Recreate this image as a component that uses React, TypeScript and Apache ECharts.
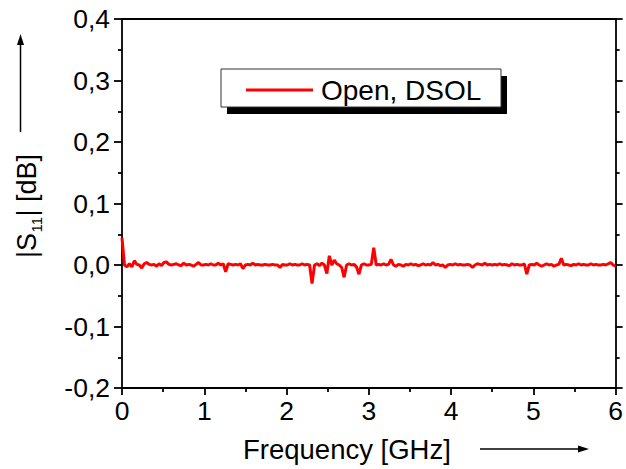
import React, { useEffect, useRef } from "react";
import * as echarts from "echarts";

// |S11| in dB, sampled every 0.03 GHz from 0 to 6 GHz (201 samples)
const FREQ_START_GHZ = 0;
const FREQ_STEP_GHZ = 0.03;
const s11Values: number[] = [
  0.044, 0.0, -0.003, 0.002, -0.003, 0.007, 0.001, 0.0, -0.005, 0.002,
  0.004, 0.001, 0.0, 0.001, -0.002, 0.002, -0.001, 0.004, 0.005, 0.001,
  0.0, 0.001, 0.002, 0.0, -0.001, 0.003, 0.0, 0.001, 0.0, -0.002,
  0.001, 0.004, 0.0, 0.0, 0.001, 0.0, 0.002, 0.0, 0.0, 0.003,
  0.0, 0.002, -0.011, 0.002, 0.001, 0.0, 0.001, 0.0, 0.002, -0.006,
  0.0, 0.001, 0.0, 0.003, 0.0, 0.001, 0.0, 0.0, 0.001, 0.0,
  0.0, 0.001, 0.0, 0.0, -0.004, 0.001, 0.0, 0.0, 0.002, 0.0,
  0.001, 0.0, 0.0, 0.002, 0.0, 0.001, 0.0, -0.03, 0.0, 0.002,
  -0.001, 0.003, 0.0, -0.014, 0.015, 0.0, 0.008, 0.002, 0.0, -0.004,
  -0.02, 0.0, 0.002, 0.0, 0.001, -0.003, -0.015, 0.0, 0.002, 0.0,
  0.0, 0.001, 0.028, 0.0, 0.001, 0.0, 0.002, 0.0, 0.001, 0.009,
  0.0, -0.002, 0.001, 0.0, -0.002, 0.001, 0.0, 0.002, 0.0, 0.001,
  -0.001, 0.0, 0.002, 0.0, 0.001, 0.0, 0.004, 0.0, 0.001, -0.001,
  0.0, -0.004, 0.0, 0.001, 0.0, 0.002, 0.0, 0.001, 0.0, 0.0,
  0.001, 0.0, -0.004, 0.0, 0.002, 0.001, 0.0, 0.003, 0.0, 0.001,
  0.0, 0.001, 0.0, 0.002, 0.0, 0.001, 0.0, -0.001, 0.002, 0.0,
  0.001, 0.0, 0.0, 0.002, -0.015, 0.0, 0.001, 0.0, 0.003, 0.0,
  -0.002, 0.0, 0.002, 0.0, 0.001, -0.002, 0.0, 0.001, 0.011, 0.0,
  0.001, 0.0, -0.001, 0.001, 0.0, 0.002, 0.0, 0.001, 0.0, 0.0,
  0.002, 0.0, 0.001, 0.0, 0.0, 0.001, 0.0, 0.002, 0.004, 0.0,
  -0.002,
];
const seriesName = "Open, DSOL";
const xAxisTitle = "Frequency [GHz]";
const yTitleParts = ["|S", "11", "| [dB]"];

const FONT = "'Liberation Sans', Arial, Helvetica, sans-serif";

export default function App() {
  const ref = useRef<HTMLDivElement>(null);
  useEffect(() => {
    if (!ref.current) return;
    const chart = echarts.init(ref.current, null, { renderer: "svg" });
    const data = s11Values.map((v, i) => [
      +(FREQ_START_GHZ + i * FREQ_STEP_GHZ).toFixed(3),
      v,
    ]);
    const fmt = (v: number) => v.toFixed(1).replace(".", ",");
    const black = "#000";
    const axisW = 1.8;
    chart.setOption({
      animation: false,
      backgroundColor: "#fff",
      textStyle: { fontFamily: FONT },
      grid: { left: 122, right: 8, top: 19, bottom: 81 },
      legend: {
        data: [seriesName],
        left: 246,
        top: 76,
        padding: 0,
        icon: "rect",
        itemWidth: 67,
        itemHeight: 3,
        itemStyle: { color: "#ff0000" },
        textStyle: {
          fontFamily: FONT,
          fontSize: 28,
          lineHeight: 28,
          color: black,
          padding: [0, 0, 0, 3],
        },
      },
      xAxis: [
        {
          type: "value",
          min: 0,
          max: 6,
          interval: 1,
          position: "bottom",
          axisLine: { show: true, onZero: false, lineStyle: { color: black, width: axisW } },
          axisTick: { show: true, inside: false, length: 7, lineStyle: { color: black, width: axisW } },
          minorTick: { show: true, splitNumber: 2, length: 4, lineStyle: { color: black, width: axisW } },
          splitLine: { show: false },
          axisLabel: { fontFamily: FONT, fontSize: 26.5, color: black, margin: 9, formatter: (v: number) => String(v) },
        },
        {
          type: "value",
          min: 0,
          max: 6,
          interval: 1,
          position: "top",
          axisLine: { show: true, onZero: false, lineStyle: { color: black, width: axisW } },
          axisTick: { show: false },
          axisLabel: { show: false },
          splitLine: { show: false },
        },
      ],
      yAxis: [
        {
          type: "value",
          min: -0.2,
          max: 0.4,
          interval: 0.1,
          position: "left",
          axisLine: { show: true, onZero: false, lineStyle: { color: black, width: axisW } },
          axisTick: { show: true, inside: false, length: 8, lineStyle: { color: black, width: axisW } },
          minorTick: { show: true, splitNumber: 2, length: 4, lineStyle: { color: black, width: axisW } },
          splitLine: { show: false },
          axisLabel: { fontFamily: FONT, fontSize: 26.5, color: black, margin: 12, formatter: fmt },
        },
        {
          type: "value",
          min: -0.2,
          max: 0.4,
          interval: 0.1,
          position: "right",
          axisLine: { show: true, onZero: false, lineStyle: { color: black, width: axisW } },
          axisTick: { show: true, inside: false, length: 7, lineStyle: { color: black, width: axisW } },
          minorTick: { show: true, splitNumber: 2, length: 4, lineStyle: { color: black, width: axisW } },
          splitLine: { show: false },
          axisLabel: { show: false },
        },
      ],
      series: [
        {
          name: seriesName,
          type: "line",
          data,
          symbol: "none",
          showSymbol: false,
          lineStyle: { color: "#ff0000", width: 3 },
          itemStyle: { color: "#ff0000" },
          z: 3,
        },
      ],
      graphic: [
        // legend shadow and box
        { type: "rect", z: 0, shape: { x: 227, y: 76, width: 280, height: 38 }, style: { fill: "#000" } },
        { type: "rect", z: 1, shape: { x: 221, y: 69, width: 280, height: 38 }, style: { fill: "#fff", stroke: "#333", lineWidth: 1 } },
        // x axis title and arrow
        {
          type: "text",
          x: 243,
          y: 449,
          style: { text: xAxisTitle, fontFamily: FONT, fontSize: 27.5, fill: black, verticalAlign: "middle" },
        },
        { type: "line", shape: { x1: 480, y1: 449, x2: 580, y2: 449 }, style: { stroke: black, lineWidth: 1.5 } },
        { type: "polygon", shape: { points: [[589, 449], [578, 445.5], [578, 452.5]] }, style: { fill: black } },
        // y axis title (rotated) and arrow
        {
          type: "group",
          x: 27,
          y: 258,
          rotation: Math.PI / 2,
          children: [
            {
              type: "text",
              x: 0,
              y: 0,
              style: { text: yTitleParts[0], fontFamily: FONT, fontSize: 27, fill: black, verticalAlign: "middle" },
            },
            {
              type: "text",
              x: 25.5,
              y: 9.5,
              style: { text: yTitleParts[1], fontFamily: FONT, fontSize: 15, fill: black, verticalAlign: "middle" },
            },
            {
              type: "text",
              x: 41.5,
              y: 0,
              style: { text: yTitleParts[2], fontFamily: FONT, fontSize: 27, fill: black, verticalAlign: "middle" },
            },
          ],
        },
        { type: "line", shape: { x1: 20.5, y1: 132, x2: 20.5, y2: 44 }, style: { stroke: black, lineWidth: 1.5 } },
        { type: "polygon", shape: { points: [[20.5, 34], [17, 45], [24, 45]] }, style: { fill: black } },
      ],
    });
    return () => chart.dispose();
  }, []);
  return (
    <div
      ref={ref}
      style={{ position: "fixed", left: 0, top: 0, width: 626, height: 469 }}
    />
  );
}
